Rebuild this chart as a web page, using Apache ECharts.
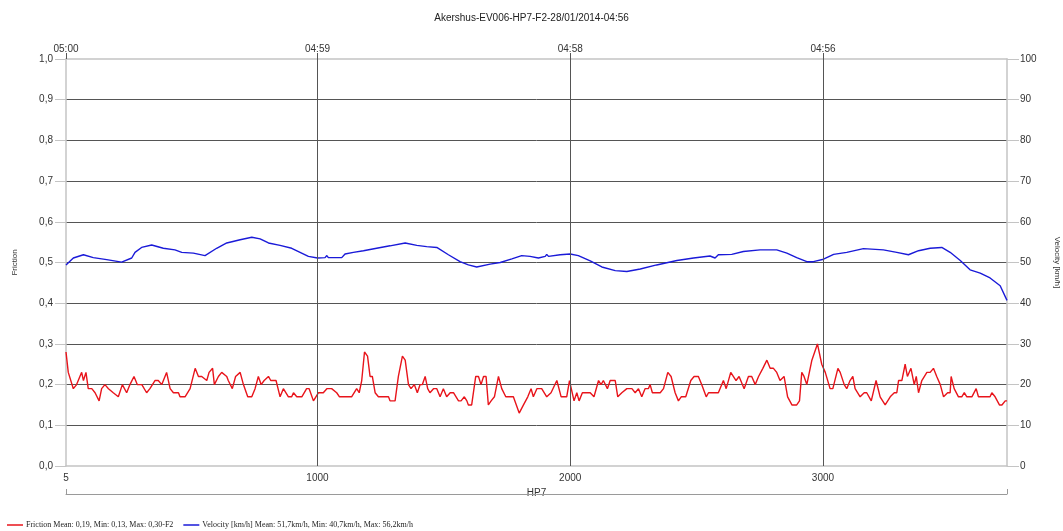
<!DOCTYPE html>
<html>
<head>
<meta charset="utf-8">
<script src="https://cdn.jsdelivr.net/npm/echarts@6/dist/echarts.min.js"></script>
<style>
  html, body { margin: 0; padding: 0; background: #fff; }
  #chart { width: 1063px; height: 531px; }
</style>
</head>
<body>
<div id="chart"></div>
<script>
// Run header and axis annotations
const chartTitle = 'Akershus-EV006-HP7-F2-28/01/2014-04:56';
const sectionName = 'HP7';
const distRange = [5, 3728];
const distTicks = [5, 1000, 2000, 3000];
const timeTicks = ['05:00', '04:59', '04:58', '04:56'];
const frictionAxisName = 'Friction';
const velocityAxisName = 'Velocity [km/h]';
const frictionLegend = 'Friction Mean: 0,19, Min: 0,13, Max: 0,30-F2';
const velocityLegend = 'Velocity [km/h] Mean: 51,7km/h, Min: 40,7km/h, Max: 56,2km/h';

// Friction measurements along the run (distance, coefficient)
const frictionDist = [
  5, 14, 34, 47, 60, 67, 74, 84, 93, 107, 120, 136, 146, 159, 173, 192, 212, 228, 245, 258,
  274, 287, 305, 324, 337, 357, 370, 384, 403, 417, 430, 450, 456, 476, 496, 516, 529, 542, 562, 571,
  585, 592, 608, 621, 641, 647, 663, 676, 694, 707, 724, 740, 753, 766, 777, 789, 806, 815, 836, 852,
  865, 885, 898, 905, 918, 938, 957, 967, 984, 1004, 1023, 1037, 1056, 1076, 1087, 1135, 1155, 1165, 1175, 1186,
  1198, 1208, 1217, 1228, 1241, 1281, 1287, 1307, 1320, 1336, 1347, 1360, 1370, 1383, 1395, 1406, 1415, 1426, 1436, 1445,
  1459, 1472, 1485, 1498, 1511, 1525, 1538, 1558, 1568, 1581, 1591, 1597, 1610, 1626, 1637, 1647, 1657, 1667, 1676, 1687,
  1700, 1716, 1729, 1745, 1775, 1798, 1815, 1832, 1845, 1854, 1868, 1887, 1907, 1924, 1947, 1964, 1986, 1997, 2015, 2026,
  2035, 2048, 2079, 2094, 2112, 2122, 2131, 2147, 2158, 2178, 2188, 2204, 2224, 2244, 2257, 2270, 2283, 2296, 2309, 2316,
  2325, 2356, 2369, 2386, 2399, 2415, 2428, 2439, 2457, 2477, 2490, 2507, 2520, 2538, 2547, 2586, 2606, 2617, 2635, 2656,
  2668, 2688, 2705, 2718, 2732, 2745, 2762, 2778, 2791, 2804, 2817, 2830, 2846, 2860, 2877, 2896, 2907, 2916, 2925, 2936,
  2956, 2978, 2995, 3009, 3028, 3039, 3059, 3068, 3084, 3094, 3107, 3118, 3127, 3147, 3163, 3173, 3191, 3210, 3226, 3246,
  3266, 3282, 3292, 3299, 3312, 3325, 3334, 3348, 3361, 3369, 3378, 3391, 3411, 3424, 3437, 3450, 3464, 3477, 3493, 3503,
  3507, 3519, 3536, 3549, 3559, 3569, 3589, 3606, 3615, 3661, 3668, 3681, 3698, 3708, 3721, 3728
];
const frictionValues = [
  0.28, 0.23, 0.19, 0.20, 0.22, 0.23, 0.21, 0.23, 0.19, 0.19, 0.18, 0.16, 0.19, 0.20, 0.19, 0.18, 0.17, 0.20, 0.18, 0.20,
  0.22, 0.20, 0.20, 0.18, 0.19, 0.21, 0.21, 0.20, 0.23, 0.19, 0.18, 0.18, 0.17, 0.17, 0.19, 0.24, 0.22, 0.22, 0.21, 0.23,
  0.24, 0.20, 0.22, 0.23, 0.22, 0.21, 0.19, 0.22, 0.23, 0.20, 0.17, 0.17, 0.19, 0.22, 0.20, 0.21, 0.22, 0.21, 0.21, 0.17,
  0.19, 0.17, 0.17, 0.18, 0.17, 0.17, 0.19, 0.19, 0.16, 0.18, 0.18, 0.19, 0.19, 0.18, 0.17, 0.17, 0.19, 0.18, 0.21, 0.28,
  0.27, 0.22, 0.22, 0.18, 0.17, 0.17, 0.16, 0.16, 0.22, 0.27, 0.26, 0.20, 0.19, 0.20, 0.18, 0.20, 0.20, 0.22, 0.19, 0.18,
  0.19, 0.19, 0.17, 0.19, 0.17, 0.18, 0.18, 0.16, 0.16, 0.17, 0.16, 0.15, 0.15, 0.22, 0.22, 0.20, 0.22, 0.22, 0.15, 0.16,
  0.17, 0.22, 0.19, 0.17, 0.17, 0.13, 0.15, 0.17, 0.19, 0.17, 0.19, 0.19, 0.17, 0.18, 0.21, 0.17, 0.17, 0.21, 0.16, 0.18,
  0.16, 0.18, 0.18, 0.17, 0.21, 0.20, 0.21, 0.19, 0.21, 0.21, 0.17, 0.18, 0.19, 0.19, 0.18, 0.19, 0.17, 0.19, 0.19, 0.20,
  0.18, 0.18, 0.19, 0.23, 0.22, 0.18, 0.16, 0.17, 0.17, 0.21, 0.22, 0.22, 0.20, 0.17, 0.18, 0.18, 0.21, 0.19, 0.23, 0.21,
  0.22, 0.19, 0.22, 0.22, 0.20, 0.22, 0.24, 0.26, 0.24, 0.24, 0.23, 0.21, 0.22, 0.17, 0.15, 0.15, 0.16, 0.23, 0.22, 0.20,
  0.26, 0.30, 0.25, 0.23, 0.19, 0.19, 0.24, 0.23, 0.20, 0.19, 0.21, 0.22, 0.19, 0.17, 0.18, 0.18, 0.16, 0.21, 0.17, 0.15,
  0.17, 0.18, 0.18, 0.21, 0.21, 0.25, 0.22, 0.24, 0.20, 0.22, 0.18, 0.21, 0.23, 0.23, 0.24, 0.22, 0.20, 0.17, 0.18, 0.18,
  0.22, 0.19, 0.17, 0.17, 0.18, 0.17, 0.17, 0.19, 0.17, 0.17, 0.18, 0.17, 0.15, 0.15, 0.16, 0.16
];

// Vehicle speed along the run (distance, km/h)
const velocityDist = [
  5, 34, 74, 113, 166, 225, 265, 278, 304, 344, 390, 436, 463, 509, 555, 601, 641, 694, 740, 773,
  806, 852, 898, 931, 964, 1000, 1030, 1037, 1043, 1070, 1096, 1109, 1142, 1182, 1234, 1287, 1347, 1393, 1432, 1472,
  1518, 1564, 1597, 1630, 1683, 1723, 1769, 1808, 1841, 1874, 1901, 1907, 1914, 1960, 2000, 2032, 2079, 2125, 2178, 2224,
  2277, 2342, 2422, 2488, 2553, 2573, 2586, 2639, 2685, 2751, 2817, 2857, 2896, 2936, 2962, 3002, 3042, 3094, 3160, 3239,
  3292, 3338, 3378, 3424, 3470, 3503, 3543, 3582, 3622, 3661, 3701, 3728
];
const velocityValues = [
  49.4, 51.1, 51.9, 51.2, 50.7, 50.1, 51.1, 52.5, 53.7, 54.3, 53.5, 53.1, 52.5, 52.3, 51.7, 53.5, 54.8, 55.6, 56.2, 55.8,
  54.8, 54.2, 53.5, 52.5, 51.5, 51.1, 51.2, 51.7, 51.2, 51.2, 51.2, 52.1, 52.5, 52.9, 53.5, 54.1, 54.8, 54.2, 53.9, 53.7,
  51.9, 50.2, 49.4, 48.9, 49.6, 50.0, 50.9, 51.7, 51.5, 51.1, 51.5, 52.0, 51.5, 51.9, 52.1, 51.7, 50.4, 48.9, 48.0, 47.8,
  48.4, 49.4, 50.5, 51.1, 51.6, 51.1, 51.9, 52.0, 52.7, 53.1, 53.1, 52.3, 51.2, 50.2, 50.2, 50.8, 52.0, 52.5, 53.4, 53.1,
  52.5, 51.9, 52.9, 53.5, 53.7, 52.5, 50.5, 48.2, 47.4, 46.2, 44.3, 40.7
];

const frameColor = '#c4c4c4';
const gridColor = '#555555';
const labelColor = '#333333';
const sansFont = '"Liberation Sans", Arial, sans-serif';
const serifFont = '"Liberation Serif", "Times New Roman", serif';

const zip = (xs, ys) => xs.map((x, i) => [x, ys[i]]);
const commaDecimal = v => v.toFixed(1).replace('.', ',');
const timeByDist = {};
distTicks.forEach((d, i) => { timeByDist[d] = timeTicks[i]; });

const chart = echarts.init(document.getElementById('chart'), null, { renderer: 'canvas' });

chart.setOption({
  animation: false,
  backgroundColor: '#ffffff',
  title: {
    text: chartTitle,
    left: 'center',
    top: 8,
    textStyle: { fontFamily: sansFont, fontSize: 10, fontWeight: 'normal', color: '#222' }
  },
  legend: {
    left: 2,
    top: 516,
    icon: 'rect',
    itemWidth: 16,
    itemHeight: 1.5,
    itemGap: 10,
    textStyle: { fontFamily: serifFont, fontSize: 8, color: '#222', padding: [0, 0, 0, -2] },
    data: [frictionLegend, velocityLegend]
  },
  grid: { left: 66, right: 56, top: 59, bottom: 65, containLabel: false, outerBoundsMode: 'none' },
  xAxis: [
    {
      type: 'value',
      position: 'bottom',
      min: distRange[0],
      max: distRange[1],
      axisLine: { show: true, onZero: false, lineStyle: { color: frameColor, width: 1.5 } },
      axisTick: { show: false },
      axisLabel: {
        customValues: distTicks,
        formatter: v => String(v),
        color: labelColor, fontFamily: sansFont, fontSize: 10, margin: 7
      },
      splitLine: { show: false }
    },
    {
      type: 'value',
      position: 'top',
      min: distRange[0],
      max: distRange[1],
      axisLine: { show: true, onZero: false, lineStyle: { color: frameColor, width: 1.5 } },
      axisTick: { show: true, customValues: distTicks, length: 6, lineStyle: { color: gridColor } },
      axisLabel: {
        customValues: distTicks,
        formatter: v => timeByDist[v] || '',
        color: labelColor, fontFamily: sansFont, fontSize: 10, margin: 5
      },
      splitLine: { show: false }
    },
    {
      // section bracket under the distance axis
      type: 'value',
      position: 'bottom',
      offset: 28,
      min: distRange[0],
      max: distRange[1],
      name: sectionName,
      nameLocation: 'middle',
      nameGap: -6,
      nameTextStyle: {
        fontFamily: sansFont, fontSize: 10, color: labelColor,
        backgroundColor: '#ffffff', padding: [0, 1]
      },
      axisLine: { show: true, onZero: false, lineStyle: { color: '#9a9a9a', width: 1 } },
      axisTick: { show: true, inside: true, customValues: distRange, length: 5, lineStyle: { color: '#9a9a9a' } },
      axisLabel: { show: false },
      splitLine: { show: false }
    }
  ],
  yAxis: [
    {
      type: 'value',
      position: 'left',
      min: 0,
      max: 1,
      interval: 0.1,
      name: frictionAxisName,
      nameLocation: 'middle',
      nameGap: 47,
      nameRotate: 90,
      nameTextStyle: { fontFamily: sansFont, fontSize: 8, color: labelColor },
      axisLine: { show: true, onZero: false, lineStyle: { color: frameColor, width: 1.5 } },
      axisTick: { show: true, length: 11, lineStyle: { color: frameColor } },
      axisLabel: { formatter: commaDecimal, color: labelColor, fontFamily: sansFont, fontSize: 10, margin: 13 },
      splitLine: { show: true, showMinLine: false, showMaxLine: false, lineStyle: { color: gridColor, width: 1 } }
    },
    {
      type: 'value',
      position: 'right',
      min: 0,
      max: 100,
      interval: 10,
      name: velocityAxisName,
      nameLocation: 'middle',
      nameGap: 46,
      nameRotate: -90,
      nameTextStyle: { fontFamily: sansFont, fontSize: 8, color: labelColor },
      axisLine: { show: true, onZero: false, lineStyle: { color: frameColor, width: 1.5 } },
      axisTick: { show: true, length: 12, lineStyle: { color: frameColor } },
      axisLabel: { color: labelColor, fontFamily: sansFont, fontSize: 10, margin: 13 },
      splitLine: { show: false }
    }
  ],
  series: [
    {
      name: frictionLegend,
      type: 'line',
      xAxisIndex: 0,
      yAxisIndex: 0,
      data: zip(frictionDist, frictionValues),
      showSymbol: false,
      color: '#e8141b',
      lineStyle: { color: '#e8141b', width: 1.4 },
      z: 3,
      markLine: {
        silent: true,
        symbol: 'none',
        label: { show: false },
        lineStyle: { color: gridColor, width: 1, type: 'solid' },
        data: distTicks.slice(1).map(d => ({ xAxis: d }))
      }
    },
    {
      name: velocityLegend,
      type: 'line',
      xAxisIndex: 0,
      yAxisIndex: 1,
      data: zip(velocityDist, velocityValues),
      showSymbol: false,
      color: '#1a1ad8',
      lineStyle: { color: '#1a1ad8', width: 1.4 },
      z: 3
    }
  ]
});
</script>
</body>
</html>
